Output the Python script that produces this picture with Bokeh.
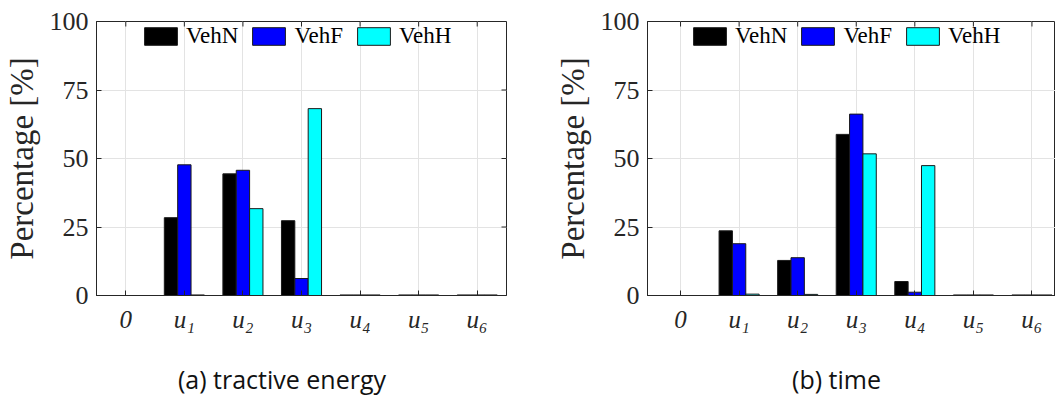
from bokeh.plotting import figure
from bokeh.models import Range1d, FixedTicker, Label, ColumnDataSource
from bokeh.layouts import row, column
from bokeh.embed import file_html
from bokeh.resources import INLINE

categories = ["0", "u1", "u2", "u3", "u4", "u5", "u6"]
tick_labels = ["0", "u\u2081", "u\u2082", "u\u2083", "u\u2084", "u\u2085", "u\u2086"]
series = ["VehN", "VehF", "VehH"]
colors = ["#000000", "#0000ff", "#00ffff"]
y_ticks = [0, 25, 50, 75, 100]
captions = ["(a) tractive energy", "(b) time"]

energy_vehn = [0, 28.4, 44.4, 27.3, 0.2, 0.2, 0.2]
energy_vehf = [0, 47.7, 45.7, 6.2, 0.2, 0.2, 0.2]
energy_vehh = [0, 0.2, 31.7, 68.2, 0.2, 0.2, 0.2]

time_vehn = [0, 23.6, 12.8, 58.8, 5.1, 0.2, 0.2]
time_vehf = [0, 18.9, 13.8, 66.2, 1.2, 0.2, 0.2]
time_vehh = [0, 0.5, 0.4, 51.7, 47.4, 0.2, 0.2]

SERIF = "Liberation Serif"
AX = "#262626"
BAR_W = 0.228
FRAME_H = 274
TICK_PX = 5
BOTTOM = 45
CAP_H = 396 - 21 - FRAME_H - BOTTOM


def make_panel(values, x_start, x_end, border_left, frame_w, border_right,
               legend_x, right_ticks=True):
    p = figure(frame_width=frame_w, frame_height=FRAME_H,
               min_border_left=border_left, min_border_right=border_right,
               min_border_top=21, min_border_bottom=BOTTOM,
               x_range=Range1d(x_start, x_end), y_range=Range1d(0, 100),
               output_backend="svg", toolbar_location=None,
               background_fill_color="white", border_fill_color="white")
    idx = list(range(len(categories)))
    for j, (name, vals) in enumerate(zip(series, values)):
        off = (j - 1) * BAR_W
        src = ColumnDataSource(dict(x=[i + off for i in idx], top=vals))
        p.vbar(x="x", top="top", width=BAR_W, source=src,
               fill_color=colors[j], line_color="#1a1a1a", line_width=1,
               legend_label=name)

    # inward ticks on the top (and right) edges of the box
    dy = TICK_PX * 100.0 / FRAME_H
    p.segment(x0=idx, y0=[100] * len(idx), x1=idx, y1=[100 - dy] * len(idx),
              line_color=AX, line_width=1)
    if right_ticks:
        dx = TICK_PX * (x_end - x_start) / frame_w
        p.segment(x0=[x_end] * len(y_ticks), y0=y_ticks,
                  x1=[x_end - dx] * len(y_ticks), y1=y_ticks,
                  line_color=AX, line_width=1)

    # axes
    p.xaxis.ticker = FixedTicker(ticks=idx)
    p.xaxis.major_label_overrides = {i: lab for i, lab in enumerate(tick_labels)}
    p.xaxis.major_label_text_font = SERIF
    p.xaxis.major_label_text_font_style = "italic"
    p.xaxis.major_label_text_font_size = "25px"
    p.xaxis.major_label_text_color = AX
    p.xaxis.major_label_standoff = 10
    p.yaxis.ticker = FixedTicker(ticks=y_ticks)
    p.yaxis.major_label_text_font = SERIF
    p.yaxis.major_label_text_font_size = "26px"
    p.yaxis.major_label_text_color = AX
    p.yaxis.major_label_standoff = 8
    p.yaxis.axis_label = "Percentage [%]"
    p.yaxis.axis_label_text_font = SERIF
    p.yaxis.axis_label_text_font_style = "normal"
    p.yaxis.axis_label_text_font_size = "33px"
    p.yaxis.axis_label_text_color = AX
    p.yaxis.axis_label_standoff = 7
    for ax in (p.xaxis, p.yaxis):
        ax.major_tick_in = TICK_PX
        ax.major_tick_out = 0
        ax.minor_tick_line_color = None
        ax.axis_line_color = AX
        ax.major_tick_line_color = AX

    p.xgrid.ticker = FixedTicker(ticks=idx)
    p.ygrid.ticker = FixedTicker(ticks=y_ticks)
    p.grid.grid_line_color = "#e3e3e3"
    p.grid.grid_line_width = 1
    p.outline_line_color = AX

    lg = p.legend[0]
    lg.orientation = "horizontal"
    lg.location = (legend_x, FRAME_H - 6 - 22)
    lg.glyph_width = 41
    lg.glyph_height = 22
    lg.label_standoff = 5
    lg.spacing = 10
    lg.padding = 0
    lg.margin = 0
    lg.border_line_alpha = 0
    lg.background_fill_alpha = 0
    lg.label_text_font = SERIF
    lg.label_text_font_size = "23px"
    lg.label_height = 22
    lg.label_text_color = "#000000"
    return p


p1 = make_panel([energy_vehn, energy_vehf, energy_vehh], -0.5, 6.5, 96, 410, 14, 44)
p2 = make_panel([time_vehn, time_vehf, time_vehh], -0.564, 6.402, 127, 408, 0, 42,
                right_ticks=False)

cap = figure(width=1055, height=CAP_H, x_range=Range1d(0, 1055), y_range=Range1d(CAP_H, 0),
             x_axis_type=None, y_axis_type=None, output_backend="svg",
             toolbar_location=None, min_border=0, outline_line_color=None,
             background_fill_color="white", border_fill_color="white")
cap.grid.visible = False
for txt, cx in zip(captions, [281.5, 836]):
    cap.add_layout(Label(x=cx, y=CAP_H - 17.5, text=txt, text_align="center",
                         text_baseline="middle", text_font="Open Sans",
                         text_font_size="25px", text_color="#111111"))

layout = column(row(p1, p2, spacing=0), cap, spacing=0)
open("out.html", "w").write(file_html(layout, INLINE))
